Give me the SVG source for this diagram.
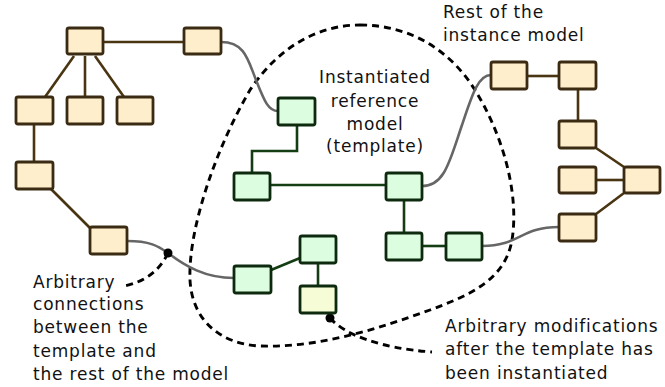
<svg xmlns="http://www.w3.org/2000/svg" width="665" height="387" viewBox="0 0 665 387">
  <style>
    .inst rect { fill: #ffeecc; stroke: #3b2b12; stroke-width: 2.8; }
    .tmpl rect { fill: #dcfde0; stroke: #0d2a0f; stroke-width: 2.8; }
    .mod rect { fill: #f6fdd6; stroke: #0d2a0f; stroke-width: 2.8; }
    .e-inst { stroke: #4a3512; stroke-width: 2.6; fill: none; }
    .e-tmpl { stroke: #143d14; stroke-width: 2.6; fill: none; }
    .e-link { stroke: #666666; stroke-width: 2.6; fill: none; }
    .dash { stroke: #000; stroke-width: 2.9; fill: none; stroke-dasharray: 7 5; }
    text { font-family: "DejaVu Sans", sans-serif; font-size: 17px; letter-spacing: 0.8px; fill: #111; }
  </style>

  <!-- boundary of the instantiated template -->
  <path class="dash" d="M360,25 C410,25 450,50 475,90 C500,130 520,190 512,240 C505,280 470,295 430,310 C380,328 320,348 260,346 C220,344 192,320 190,280 C188,230 215,150 250,90 C280,45 320,25 360,25 Z"/>

  <!-- connectors -->
  <g id="connectors">
    <!-- instance model, left part -->
    <line class="e-inst" x1="103" y1="42" x2="184" y2="42"/>
    <line class="e-inst" x1="74" y1="56" x2="45" y2="97"/>
    <line class="e-inst" x1="85" y1="56" x2="85" y2="97"/>
    <line class="e-inst" x1="95" y1="56" x2="124" y2="97"/>
    <line class="e-inst" x1="34" y1="124" x2="34" y2="162"/>
    <line class="e-inst" x1="51" y1="189" x2="90" y2="228"/>
    <!-- instance model, right part -->
    <line class="e-inst" x1="527" y1="76" x2="559" y2="76"/>
    <line class="e-inst" x1="578" y1="89" x2="578" y2="121"/>
    <line class="e-inst" x1="596" y1="148" x2="624" y2="167"/>
    <line class="e-inst" x1="596" y1="180" x2="624" y2="180"/>
    <line class="e-inst" x1="596" y1="214" x2="624" y2="193"/>
    <!-- template -->
    <polyline class="e-tmpl" points="297,125 297,151 252,151 252,173"/>
    <line class="e-tmpl" x1="270" y1="185" x2="386" y2="185"/>
    <line class="e-tmpl" x1="404" y1="200" x2="404" y2="233"/>
    <line class="e-tmpl" x1="422" y1="246" x2="446" y2="246"/>
    <line class="e-tmpl" x1="271" y1="270" x2="300" y2="258"/>
    <line class="e-tmpl" x1="318" y1="263" x2="318" y2="286"/>
    <!-- links between template and the rest of the model -->
    <path class="e-link" d="M221,42 C245,42 248,60 256,80 C264,100 268,111 278,111"/>
    <path class="e-link" d="M127,241 C150,241 158,246 168,253 C185,266 205,278 234,278"/>
    <path class="e-link" d="M422,186 C445,186 450,160 462,125 C472,95 478,75 491,75"/>
    <path class="e-link" d="M482,246 C520,246 520,227 559,227"/>
    <!-- annotation pointers -->
    <path class="dash" d="M168,253 C160,270 145,282 124,286"/>
    <path class="dash" d="M330,318 C345,335 380,348 432,352"/>
    <circle cx="168" cy="253" r="4.5" fill="#000"/>
    <circle cx="330" cy="318" r="4.5" fill="#000"/>
  </g>

  <!-- instance model nodes -->
  <g class="inst">
    <g id="n-top"><rect x="67" y="28" width="36" height="26" rx="2"/></g>
    <g id="n-top2"><rect x="184" y="28" width="37" height="26" rx="2"/></g>
    <g id="n-l1"><rect x="16" y="97" width="37" height="27" rx="2"/></g>
    <g id="n-l2"><rect x="67" y="97" width="36" height="27" rx="2"/></g>
    <g id="n-l3"><rect x="117" y="97" width="36" height="27" rx="2"/></g>
    <g id="n-l4"><rect x="16" y="162" width="37" height="27" rx="2"/></g>
    <g id="n-l5"><rect x="90" y="227" width="37" height="27" rx="2"/></g>
    <g id="n-r1"><rect x="491" y="62" width="36" height="27" rx="2"/></g>
    <g id="n-r2"><rect x="559" y="62" width="37" height="27" rx="2"/></g>
    <g id="n-r3"><rect x="559" y="121" width="37" height="27" rx="2"/></g>
    <g id="n-r4"><rect x="559" y="167" width="37" height="26" rx="2"/></g>
    <g id="n-r5"><rect x="624" y="167" width="36" height="26" rx="2"/></g>
    <g id="n-r6"><rect x="559" y="214" width="37" height="27" rx="2"/></g>
  </g>

  <!-- template nodes -->
  <g class="tmpl">
    <g id="t-a"><rect x="278" y="98" width="37" height="27" rx="2"/></g>
    <g id="t-b"><rect x="234" y="173" width="36" height="27" rx="2"/></g>
    <g id="t-c"><rect x="386" y="173" width="36" height="27" rx="2"/></g>
    <g id="t-d"><rect x="386" y="233" width="36" height="27" rx="2"/></g>
    <g id="t-e"><rect x="446" y="233" width="36" height="27" rx="2"/></g>
    <g id="t-f"><rect x="234" y="266" width="37" height="27" rx="2"/></g>
    <g id="t-g"><rect x="300" y="236" width="36" height="27" rx="2"/></g>
  </g>
  <g class="mod">
    <g id="t-h"><rect x="300" y="286" width="36" height="27" rx="2"/></g>
  </g>

  <!-- labels -->
  <text x="443" y="18">Rest of the</text>
  <text x="443" y="41">instance model</text>

  <g text-anchor="middle">
    <text x="375" y="83">Instantiated</text>
    <text x="375" y="107">reference</text>
    <text x="375" y="130">model</text>
    <text x="375" y="152">(template)</text>
  </g>

  <text x="33" y="288">Arbitrary</text>
  <text x="33" y="310">connections</text>
  <text x="33" y="333">between the</text>
  <text x="33" y="357">template and</text>
  <text x="33" y="380">the rest of the model</text>

  <text x="445" y="332">Arbitrary modifications</text>
  <text x="445" y="355">after the template has</text>
  <text x="445" y="379">been instantiated</text>
</svg>
